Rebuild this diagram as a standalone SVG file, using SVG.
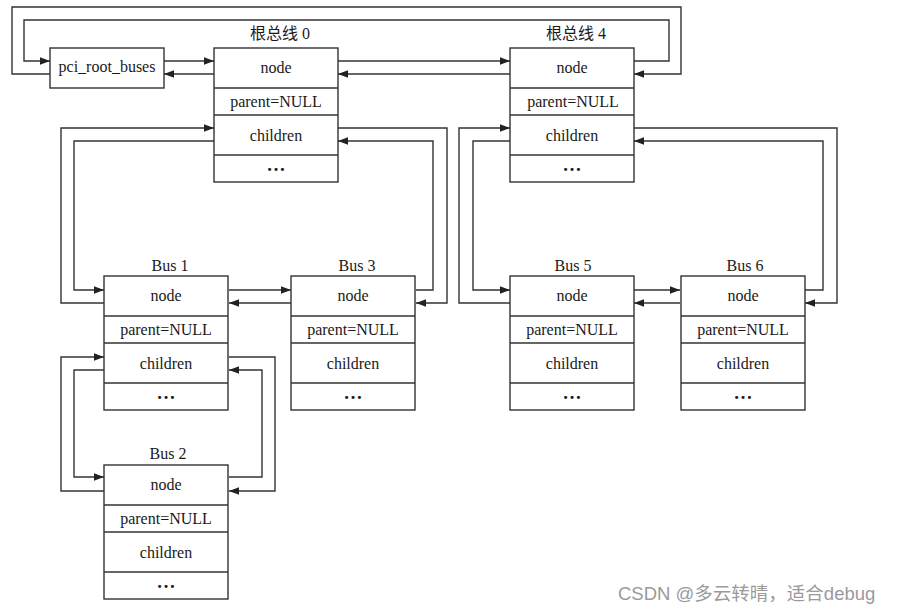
<svg xmlns="http://www.w3.org/2000/svg" width="898" height="613" viewBox="0 0 898 613">
<style>
.box{fill:#fff;stroke:#333;stroke-width:1.4}
.row{stroke:#333;stroke-width:1.4}
.t{font-family:"Liberation Serif","Noto Sans CJK SC",serif;font-size:16px;fill:#1a1a1a;text-anchor:middle}
.d{font-family:"Liberation Serif",serif;font-size:19px;font-weight:bold;fill:#1a1a1a;text-anchor:middle}
.c{fill:none;stroke:#333;stroke-width:1.4}
.wm{font-family:"Liberation Sans","Noto Sans CJK SC",sans-serif;font-size:18.5px;fill:#9a9a9a}
</style>
<defs>
<marker id="ah" markerUnits="userSpaceOnUse" markerWidth="11" markerHeight="8" refX="10" refY="3.75" orient="auto">
<path d="M0,0 L10,3.75 L0,7.5 z" fill="#222"/>
</marker>
<g id="busbody">
<rect class="box" x="0" y="0" width="124" height="134"/>
<line class="row" x1="0" y1="40" x2="124" y2="40"/>
<line class="row" x1="0" y1="67" x2="124" y2="67"/>
<line class="row" x1="0" y1="107" x2="124" y2="107"/>
</g>
</defs>
<rect width="898" height="613" fill="#fff"/>
<g id="connectors" marker-end="url(#ah)">
<path class="c" d="M164,61 H214"/>
<path class="c" d="M214,74 H164"/>
<path class="c" d="M50,74 H12 V7 H681 V74 H634"/>
<path class="c" d="M634,61 H669 V20 H24 V61 H50"/>
<path class="c" d="M338,61 H510"/>
<path class="c" d="M510,74 H338"/>
<path class="c" d="M214,141 H74 V290 H104"/>
<path class="c" d="M104,303 H61 V128 H214"/>
<path class="c" d="M229,290 H291"/>
<path class="c" d="M291,303 H229"/>
<path class="c" d="M416,290 H433 V141 H338"/>
<path class="c" d="M338,128 H447 V303 H416"/>
<path class="c" d="M510,141 H473 V290 H510"/>
<path class="c" d="M510,303 H459 V128 H510"/>
<path class="c" d="M634,290 H680"/>
<path class="c" d="M680,303 H634"/>
<path class="c" d="M805,290 H823 V141 H634"/>
<path class="c" d="M634,128 H837 V303 H805"/>
<path class="c" d="M104,370 H74 V477 H104"/>
<path class="c" d="M104,491 H61 V357 H104"/>
<path class="c" d="M229,357 H275 V491 H229"/>
<path class="c" d="M229,477 H262 V370 H229"/>
</g>
<g id="pci_root_buses">
<rect class="box" x="50" y="48" width="114" height="40"/>
<text class="t" x="107" y="72">pci_root_buses</text>
</g>
<g id="root0">
<text class="t" x="280" y="39">根总线 0</text>
<use href="#busbody" x="214" y="48"/>
<text class="t" x="276" y="73">node</text>
<text class="t" x="276" y="107">parent=NULL</text>
<text class="t" x="276" y="141">children</text>
<text class="d" x="276" y="171">…</text>
</g>
<g id="root4">
<text class="t" x="576" y="39">根总线 4</text>
<use href="#busbody" x="510" y="48"/>
<text class="t" x="572" y="73">node</text>
<text class="t" x="573" y="107">parent=NULL</text>
<text class="t" x="572" y="141">children</text>
<text class="d" x="572" y="171">…</text>
</g>
<g id="bus1">
<text class="t" x="170" y="271">Bus 1</text>
<use href="#busbody" x="104" y="276"/>
<text class="t" x="166" y="301">node</text>
<text class="t" x="166" y="335">parent=NULL</text>
<text class="t" x="166" y="369">children</text>
<text class="d" x="166" y="399">…</text>
</g>
<g id="bus3">
<text class="t" x="357" y="271">Bus 3</text>
<use href="#busbody" x="291" y="276"/>
<text class="t" x="353" y="301">node</text>
<text class="t" x="353" y="335">parent=NULL</text>
<text class="t" x="353" y="369">children</text>
<text class="d" x="353" y="399">…</text>
</g>
<g id="bus5">
<text class="t" x="573" y="271">Bus 5</text>
<use href="#busbody" x="510" y="276"/>
<text class="t" x="572" y="301">node</text>
<text class="t" x="572" y="335">parent=NULL</text>
<text class="t" x="572" y="369">children</text>
<text class="d" x="572" y="399">…</text>
</g>
<g id="bus6">
<text class="t" x="745" y="271">Bus 6</text>
<use href="#busbody" x="681" y="276"/>
<text class="t" x="743" y="301">node</text>
<text class="t" x="743" y="335">parent=NULL</text>
<text class="t" x="743" y="369">children</text>
<text class="d" x="743" y="399">…</text>
</g>
<g id="bus2">
<text class="t" x="168" y="459">Bus 2</text>
<use href="#busbody" x="104" y="465"/>
<text class="t" x="166" y="490">node</text>
<text class="t" x="166" y="524">parent=NULL</text>
<text class="t" x="166" y="558">children</text>
<text class="d" x="166" y="588">…</text>
</g>
<text class="wm" x="618" y="600">CSDN @多云转晴，适合debug</text>
</svg>
